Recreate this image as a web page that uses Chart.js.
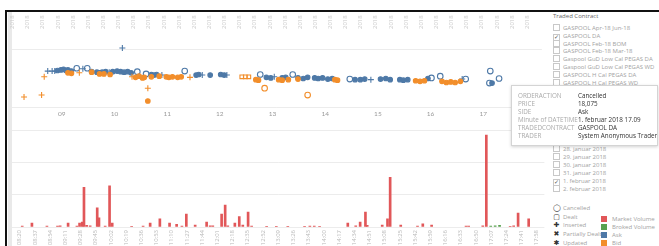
<!DOCTYPE html>
<html>
<head>
<meta charset="utf-8">
<script src="https://cdn.jsdelivr.net/npm/chart.js@4/dist/chart.umd.min.js"></script>
<style>
  html, body { margin: 0; padding: 0; width: 659px; height: 246px; overflow: hidden; background: #fff; font-family: "Open Sans", sans-serif; }
  #frameTop { position: absolute; left: 5px; top: 10px; width: 654px; height: 2px; background: #111; }
  #frameLeft { position: absolute; left: 5px; top: 10px; width: 2px; height: 236px; background: #111; }
  #strip { position: absolute; left: 8px; top: 12px; width: 4px; height: 234px; background: #e9e9e9; }
  #topChart { position: absolute; left: 7px; top: 12px; }
  #bottomChart { position: absolute; left: 7px; top: 120px; }
  .row { position: absolute; left: 553px; font-size: 6px; line-height: 8px; color: #a2a2a2; white-space: nowrap; }
  .box { display: inline-block; width: 5px; height: 5px; border: 1px solid #c8c8c8; vertical-align: -1px; margin-right: 3px; font-size: 6px; line-height: 5px; color: #555; text-align: center; }
  .title { position: absolute; left: 553px; top: 12px; font-size: 6px; color: #666; }
  .icon { display: inline-block; width: 7px; margin-right: 3px; text-align: center; color: #333; font-family: "DejaVu Sans", sans-serif; font-size: 7px; }
  .swatch { position: absolute; left: 601px; font-size: 6px; line-height: 8px; color: #a2a2a2; white-space: nowrap; }
  .swatch i { display: inline-block; width: 6px; height: 6px; vertical-align: -1px; margin-right: 5px; }
  #tip { position: absolute; left: 511px; top: 85px; width: 145px; height: 59px; background: #fff; border: 1px solid #d4d4d4; box-shadow: 0 1px 3px rgba(0,0,0,0.18); font-size: 6.3px; }
  #tip div { position: absolute; left: 6px; white-space: nowrap; color: #aaa; }
  #tip span { position: absolute; left: 60px; color: #333; }
</style>
</head>
<body>
<div id="strip"></div>
<canvas id="topChart" width="540" height="108"></canvas>
<canvas id="bottomChart" width="540" height="150"></canvas>
<div id="frameTop"></div>
<div id="frameLeft"></div>

<div class="title">Traded Contract</div>
<div id="contracts"></div>
<div id="days"></div>
<div id="shapes"></div>
<div id="colors"></div>

<div id="tip"></div>

<script>
// Price chart: Ask / Bid order events.
var askTimes = ['08:44', '08:49', '08:52', '08:55', '08:59', '09:02', '09:05', '09:07', '09:11', '09:17',
  '09:24', '09:29', '09:34', '09:40', '09:43', '09:46', '09:50', '09:54', '09:58', '10:03',
  '10:07', '10:09', '10:11', '10:15', '10:19', '10:26', '10:36', '10:42', '10:45', '10:48',
  '10:54', '11:20', '11:33', '11:36', '11:40', '11:49', '12:01', '12:05', '12:08', '12:46',
  '12:53', '12:58', '13:02', '13:11', '13:15', '13:23', '13:29', '13:35', '13:40', '13:48',
  '13:52', '13:57', '14:03', '14:08', '14:28', '14:34', '14:40', '14:45', '14:52', '15:03',
  '15:09', '15:14', '15:25', '15:29', '15:34', '15:57', '16:01', '16:11', '16:36', '16:40',
  '17:07', '17:08', '17:10', '17:18'];
var askPrices = [18.13, 18.13, 18.13, 18.14, 18.15, 18.16, 18.14, 18.15, 18.13, 18.18,
  18.17, 18.18, 18.12, 18.11, 18.10, 18.11, 18.12, 18.11, 18.12, 18.13,
  18.12, 18.535, 18.11, 18.12, 18.10, 18.12, 18.08, 18.07, 18.06, 18.07,
  18.06, 18.13, 18.06, 18.07, 18.06, 18.06, 18.07, 18.06, 18.06, 18.07,
  18.02, 18.01, 18.03, 18.01, 18.02, 18.07, 18.01, 18.00, 18.02, 18.01,
  18.00, 18.01, 17.99, 18.00, 17.99, 17.98, 17.98, 17.99, 17.98, 17.99,
  18.00, 17.98, 17.98, 17.97, 17.98, 18.00, 18.01, 18.04, 17.99, 17.99,
  17.92, 18.13, 17.92, 18.00];
var askActions = ['I', 'I', 'I', 'U', 'U', 'U', 'U', 'U', 'U', 'C',
  'I', 'C', 'U', 'U', 'U', 'U', 'U', 'I', 'U', 'U',
  'U', 'I', 'U', 'U', 'U', 'C', 'C', 'U', 'U', 'U',
  'I', 'C', 'U', 'U', 'I', 'U', 'U', 'U', 'I', 'C',
  'U', 'U', 'I', 'U', 'U', 'C', 'U', 'U', 'U', 'U',
  'U', 'U', 'U', 'U', 'C', 'U', 'U', 'U', 'I', 'U',
  'U', 'U', 'U', 'U', 'U', 'U', 'C', 'C', 'I', 'C',
  'C', 'C', 'U', 'C'];

var bidTimes = ['08:17', '08:37', '08:40', '09:07', '09:11', '09:20', '09:34', '09:43', '09:48', '09:55',
  '10:20', '10:24', '10:28', '10:32', '10:34', '10:38', '10:38', '10:42', '10:51', '10:59',
  '11:02', '11:06', '11:12', '11:16', '11:26', '12:25', '12:29', '12:33', '12:41', '12:44',
  '12:51', '13:07', '13:11', '13:18', '13:29', '13:40', '14:11', '14:14', '15:43', '15:48',
  '15:53', '16:13', '16:18', '16:23', '16:28', '16:34'];
var bidPrices = [17.675, 17.71, 18.03, 18.10, 18.09, 18.10, 18.11, 18.08, 18.08, 18.07,
  18.03, 18.02, 18.04, 18.01, 18.02, 17.83, 17.605, 18.03, 18.04, 18.03,
  18.02, 18.03, 18.02, 18.03, 18.02, 18.03, 18.03, 18.03, 17.98, 17.97,
  17.83, 17.98, 17.97, 17.98, 17.99, 17.71, 17.98, 17.97, 17.96, 17.95,
  17.96, 17.95, 17.93, 17.94, 17.93, 17.95];
var bidActions = ['I', 'I', 'I', 'U', 'U', 'I', 'U', 'U', 'U', 'U',
  'I', 'U', 'U', 'U', 'U', 'I', 'U', 'U', 'U', 'U',
  'U', 'U', 'U', 'U', 'I', 'D', 'D', 'D', 'U', 'U',
  'C', 'U', 'U', 'U', 'U', 'C', 'U', 'U', 'U', 'U',
  'U', 'U', 'U', 'U', 'U', 'U'];

// Volume chart.
var marketTimes = ['08:15', '08:26', '08:43', '08:55', '08:58', '09:07', '09:17', '09:20', '09:23', '09:25',
  '09:28', '09:32', '09:40', '09:42', '09:49', '09:54', '09:57', '10:19', '10:32', '10:40',
  '10:51', '11:02', '11:10', '11:16', '11:21', '11:31', '11:44', '11:48', '11:51', '12:01',
  '12:05', '12:08', '12:16', '12:21', '12:25', '12:31', '12:35', '12:52', '13:03', '13:16',
  '13:35', '13:41', '13:46', '13:52', '14:24', '14:33', '14:38', '14:44', '14:46', '15:03',
  '15:09', '15:12', '15:24', '15:43', '15:49', '15:59', '16:38', '16:41', '16:57', '17:01',
  '17:28', '17:32', '17:37', '17:49'];
var marketVolumes = [3, 12, 3, 3, 4, 12, 3, 12, 15, 123,
  5, 4, 59, 28, 3, 127, 12, 2, 3, 12,
  25, 12, 8, 3, 40, 6, 15, 4, 4, 40,
  68, 4, 12, 32, 6, 46, 3, 2, 2, 2,
  2, 3, 3, 2, 12, 4, 15, 46, 5, 6,
  25, 154, 6, 3, 10, 6, 3, 3, 4, 284,
  2, 4, 43, 25];
var brokeredTimes = ['17:06', '17:11', '17:16'];
var brokeredVolumes = [3, 4, 5];

var hourLabels = ['09', '10', '11', '12', '13', '14', '15', '16', '17'];
var topTickLabels = ['2018', '2018', '2018', '2018', '2018', '2018', '2018', '2018', '2018', '2018',
  '2018', '2018', '2018', '2018', '2018', '2018', '2018', '2018', '2018', '2018',
  '2018', '2018', '2018', '2018', '2018', '2018', '2018', '2018', '2018', '2018',
  '2018', '2018', '2018', '2018', '2018'];
var bottomTickLabels = ['08:20', '08:37', '08:54', '09:11', '09:28', '09:45', '10:02', '10:19', '10:36', '10:53',
  '11:10', '11:27', '11:44', '12:01', '12:18', '12:35', '12:52', '13:09', '13:26', '13:43',
  '14:00', '14:17', '14:34', '14:51', '15:08', '15:25', '15:42', '15:59', '16:16', '16:33',
  '16:50', '17:07', '17:24', '17:41', '17:58'];

var contracts = ['GASPOOL Apr-18 Jun-18', 'GASPOOL DA', 'GASPOOL Feb-18 BOM', 'GASPOOL Feb-18 Mar-18',
  'Gaspool GuD Low Cal PEGAS DA', 'Gaspool GuD Low Cal PEGAS WD', 'GASPOOL H Cal PEGAS DA', 'GASPOOL H Cal PEGAS WD'];
var days = ['28. januar 2018', '29. januar 2018', '30. januar 2018', '31. januar 2018', '1. februar 2018', '2. februar 2018'];
var shapeNames = ['Cancelled', 'Dealt', 'Inserted', 'Partially Dealt', 'Updated'];
var colorNames = ['Market Volume', 'Broked Volume', 'Ask', 'Bid'];
var tipLabels = ['ORDERACTION', 'PRICE', 'SIDE', 'Minute of DATETIME', 'TRADEDCONTRACT', 'TRADER'];
var tipValues = ['Cancelled', '18,075', 'Ask', '1. februar 2018 17.09', 'GASPOOL DA', 'System Anonymous Trader'];

var BLUE = '#4e79a7', ORANGE = '#f28e2b', RED = '#e15759', GREEN = '#59a14f';
var X_MIN = 8.057, X_MAX = 18.113;

function toHours(t) {
  var p = t.split(':');
  return +p[0] + p[1] / 60;
}

var markerStyle = {
  C: {style: 'circle', fill: false, radius: 2.8},
  I: {style: 'cross', fill: false, radius: 3},
  U: {style: 'circle', fill: true, radius: 2.3},
  D: {style: 'rect', fill: false, radius: 2.6}
};

function scatterSet(label, color, times, prices, actions) {
  return {
    label: label,
    data: times.map(function (t, i) { return {x: toHours(t), y: prices[i]}; }),
    pointStyle: actions.map(function (a) { return markerStyle[a].style; }),
    pointRadius: actions.map(function (a) { return markerStyle[a].radius; }),
    pointBackgroundColor: actions.map(function (a) { return markerStyle[a].fill ? color : 'rgba(0,0,0,0)'; }),
    pointBorderColor: color,
    pointBorderWidth: 1.1
  };
}

function fixHeight(h) {
  return function (scale) { scale.height = h; };
}

var noGrid = {display: false, drawTicks: false};

new Chart(document.getElementById('topChart'), {
  type: 'scatter',
  data: {
    datasets: [
      scatterSet('Bid', ORANGE, bidTimes, bidPrices, bidActions),
      scatterSet('Ask', BLUE, askTimes, askPrices, askActions)
    ]
  },
  options: {
    responsive: false,
    animation: false,
    layout: {padding: {left: 5, right: 2, top: 0, bottom: 0}},
    plugins: {legend: {display: false}, tooltip: {enabled: false}},
    scales: {
      x: {
        type: 'linear', position: 'bottom', min: X_MIN, max: X_MAX,
        afterBuildTicks: function (scale) {
          scale.ticks = hourLabels.map(function (l) { return {value: +l}; });
        },
        afterFit: fixHeight(13),
        grid: noGrid, border: {display: false},
        ticks: {
          color: '#9a9a9a', font: {size: 6.5, family: 'Lato'}, padding: 3,
          callback: function (v) { return hourLabels[hourLabels.map(Number).indexOf(v)]; }
        }
      },
      xTop: {
        type: 'category', axis: 'x', position: 'top', labels: topTickLabels, offset: true,
        afterFit: fixHeight(19),
        grid: noGrid, border: {display: false},
        ticks: {color: '#c8c8c8', font: {size: 6, family: 'Open Sans'}, minRotation: 90, maxRotation: 90, autoSkip: false, padding: 2}
      },
      y: {
        display: true, min: 17.5, max: 18.833,
        afterBuildTicks: function (scale) {
          scale.ticks = [{value: 17.5}, {value: 18.5}];
        },
        afterFit: function (scale) { scale.width = 0; },
        grid: {color: '#ececec', drawTicks: false}, border: {display: false},
        ticks: {display: false}
      }
    }
  }
});

function barData(times, values) {
  return times.map(function (t, i) { return {x: toHours(t), y: values[i]}; });
}

new Chart(document.getElementById('bottomChart'), {
  type: 'bar',
  data: {
    datasets: [
      {label: 'Market Volume', data: barData(marketTimes, marketVolumes), backgroundColor: RED},
      {label: 'Broked Volume', data: barData(brokeredTimes, brokeredVolumes), backgroundColor: GREEN}
    ]
  },
  options: {
    responsive: false,
    animation: false,
    barThickness: 2,
    grouped: false,
    layout: {padding: {left: 5, right: 2, top: 10, bottom: 0}},
    plugins: {legend: {display: false}, tooltip: {enabled: false}},
    scales: {
      x: {type: 'linear', display: false, min: X_MIN, max: X_MAX, offset: false},
      xLab: {
        type: 'category', axis: 'x', position: 'bottom', labels: bottomTickLabels, offset: true,
        afterFit: fixHeight(43),
        grid: noGrid, border: {display: false},
        ticks: {color: '#b8b8b8', font: {size: 6, family: 'Open Sans'}, minRotation: 90, maxRotation: 90, autoSkip: false, padding: 3}
      },
      y: {
        min: 0, max: 300,
        ticks: {display: false, stepSize: 100},
        afterFit: function (scale) { scale.width = 0; },
        grid: {color: '#ececec', drawTicks: false}, border: {display: false}
      }
    }
  }
});

// Filters, legends and the hover card.
function addRows(id, items, top, step, checked) {
  var html = '';
  items.forEach(function (name, i) {
    html += '<div class="row" style="top:' + (top + i * step - 4) + 'px"><span class="box">' +
      (name === checked ? '&#10003;' : '') + '</span>' + name + '</div>';
  });
  document.getElementById(id).innerHTML = html;
}
addRows('contracts', contracts, 28, 7.8, 'GASPOOL DA');
addRows('days', days, 149, 8, '1. februar 2018');

var shapeIcons = ['&#9711;', '&#9634;', '&#10010;', '&#10006;', '&#10033;'];
document.getElementById('shapes').innerHTML = shapeNames.map(function (name, i) {
  return '<div class="row" style="top:' + (208 + i * 8.7 - 4) + 'px"><span class="icon">' + shapeIcons[i] + '</span>' + name + '</div>';
}).join('');

var swatchColors = [RED, GREEN, BLUE, ORANGE];
document.getElementById('colors').innerHTML = colorNames.map(function (name, i) {
  return '<div class="swatch" style="top:' + (219 + i * 8 - 4) + 'px"><i style="background:' + swatchColors[i] + '"></i>' + name + '</div>';
}).join('');

document.getElementById('tip').innerHTML = tipLabels.map(function (l, i) {
  return '<div style="top:' + (5 + i * 8) + 'px">' + l + '<span>' + tipValues[i] + '</span></div>';
}).join('');
</script>
</body>
</html>
